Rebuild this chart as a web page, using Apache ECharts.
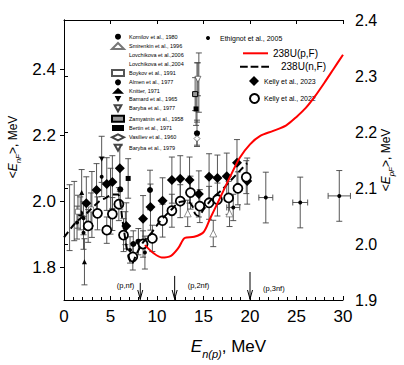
<!DOCTYPE html>
<html><head><meta charset="utf-8">
<script src="https://cdn.jsdelivr.net/npm/echarts@6/dist/echarts.min.js"></script>
<style>html,body{margin:0;padding:0;background:#fff}#c{width:404px;height:365px}</style>
</head><body><div id="c"></div>
<script>
// ---- data: [E (MeV), <E>, dy, dx] ----
const kornilov   = [[1.75,1.963,0.05],[6.05,2.036,0.06],[7.45,1.87,0.04],[8.0,1.877,0.04],[9.25,2.034,0.06],[14.3,2.206,0.04]];
const smirenkin  = [[13.3,1.963,0.04],[16.05,1.902,0.04],[17.8,1.963,0.04]];
const lovch2006  = [[0.6,1.95,0.1],[3.0,1.99,0.1],[14.5,2.36,0.09]];
const lovch2004  = [[1.1,1.97,0.09],[5.0,2.0,0.1],[14.3,2.33,0.09]];
const boykov     = [[1.5,1.968,0.05],[2.9,1.975,0.05]];
const almen      = [[1.4,1.935,0.05],[2.1,1.948,0.05],[2.1,1.904,0.05],[4.05,2.074,0.06],[6.6,1.918,0.05],[7.1,1.852,0.04],[8.7,1.844,0.05]];
const knitter    = [[1.9,2.026,0.07],[2.2,1.816,0.07]];
const barnard    = [[4.05,2.127,0.07]];
const baryba1977 = [[14.4,2.37,0.05]];
const zamyatnin  = [[14.1,2.325,0.05]];
const bertin     = [[6.9,2.069,0.06],[14.2,2.28,0.05]];
const vasiliev   = [[14.3,2.19,0.02]];
const baryba1979 = [];
const ethignot   = [[18.2,1.981,0.04,0.7],[21.7,2.011,0.077,0.75],[25.4,1.996,0.077,0.8],[29.6,2.016,0.077,1.2]];
const kelly2023  = [[2.4,1.994,0.08],[3.5,2.034,0.08],[4.6,2.052,0.08],[5.2,2.058,0.08],[6.0,2.10,0.07],[6.7,1.925,0.07],[8.5,1.947,0.07],[9.3,1.982,0.07],[10.6,2.001,0.07],[11.6,2.064,0.07],[12.5,2.068,0.07],[13.5,2.064,0.07],[14.5,2.022,0.07],[15.6,2.074,0.07],[16.5,2.07,0.07],[17.5,2.076,0.07],[18.6,2.117,0.07],[19.7,2.061,0.07]];
const kelly2022  = [[2.6,1.925,0.05],[3.6,1.963,0.05],[4.6,1.912,0.04],[5.2,1.961,0.05],[5.9,1.991,0.05],[6.4,1.897,0.05],[7.4,1.831,0.04],[8.5,1.87,0.04],[9.5,1.887,0.04],[10.6,1.941,0.05],[11.6,1.971,0.05],[12.5,2.0,0.05],[13.6,2.026,0.05],[14.6,1.985,0.05],[15.6,1.995,0.05],[16.5,2.005,0.05],[17.7,2.01,0.05],[18.7,2.039,0.05],[19.6,2.073,0.05]];
// 238U(n,F) on left axis
const unfE = [0,1.2,2.5,3.8,4.5,5.2,5.8,6.3,6.8,7.3,7.8,8.5,9.3,10.3,11.5,12.5,13.3,13.8,14.1,14.5,15.0,16.0,17.0,18.0,19.0,19.7];
const unfV = [1.89,1.933,1.965,2.0,2.01,2.02,2.02,1.94,1.85,1.81,1.84,1.875,1.9,1.938,1.973,1.998,2.0,1.985,1.962,1.955,1.975,2.01,2.035,2.065,2.095,2.115];
// 238U(p,F) on right axis
const upfE = [8.7,9.6,10.5,11.5,12.3,13.0,14.0,15.0,15.7,16.8,17.8,18.9,20.0,21.1,22.5,23.9,25.0,26.0,27.0,28.0,29.0,30.0];
const upfV = [1.998,1.984,1.976,1.979,1.993,2.011,2.013,2.021,2.045,2.083,2.118,2.154,2.178,2.193,2.202,2.212,2.227,2.243,2.264,2.288,2.313,2.338];
// reaction thresholds
const reactE = [8.2,11.9,20.0];
const reactTop = [1.752,1.773,1.785];
const reactLabels = ['(p,nf)','(p,2nf)','(p,3nf)'];
const leftTicks = [1.8,2.0,2.2,2.4];
const rightTicks = [1.9,2.0,2.1,2.2,2.3,2.4];
const xTicks = [0,5,10,15,20,25,30];

const FONT = "'Liberation Sans', Arial, Helvetica, sans-serif";
const Y_MIN = 1.7;
const errColor = '#444';

function errSeries(name, pts, yIdx) {
  return {
    type: 'custom', name: name + ' err', yAxisIndex: yIdx || 0, z: 2, silent: true,
    encode: {x: 0, y: 1},
    data: pts.map(p => [p[0], p[1], p[2] || 0, p[3] || 0]),
    renderItem: function (params, api) {
      const x = api.value(0), y = api.value(1), dy = api.value(2), dx = api.value(3);
      const ch = [];
      const st = {stroke: errColor, lineWidth: 0.9};
      const c = 3;
      if (dy > 0) {
        const t = api.coord([x, y + dy]), b = api.coord([x, y - dy]);
        ch.push({type: 'line', shape: {x1: t[0], y1: t[1], x2: b[0], y2: b[1]}, style: st});
        ch.push({type: 'line', shape: {x1: t[0] - c, y1: t[1], x2: t[0] + c, y2: t[1]}, style: st});
        ch.push({type: 'line', shape: {x1: b[0] - c, y1: b[1], x2: b[0] + c, y2: b[1]}, style: st});
      }
      if (dx > 0) {
        const l = api.coord([x - dx, y]), r = api.coord([x + dx, y]);
        ch.push({type: 'line', shape: {x1: l[0], y1: l[1], x2: r[0], y2: r[1]}, style: st});
        ch.push({type: 'line', shape: {x1: l[0], y1: l[1] - c, x2: l[0], y2: l[1] + c}, style: st});
        ch.push({type: 'line', shape: {x1: r[0], y1: r[1] - c, x2: r[0], y2: r[1] + c}, style: st});
      }
      return {type: 'group', children: ch};
    }
  };
}
function sc(name, pts, symbol, size, fill, stroke, bw) {
  return {
    type: 'scatter', name: name, yAxisIndex: 0, z: 3,
    data: pts.map(p => [p[0], p[1]]),
    symbol: symbol, symbolSize: size,
    itemStyle: {color: fill, borderColor: stroke || fill, borderWidth: bw || 0, opacity: 1}
  };
}

const sets = [
  ['Kornilov et al., 1980', kornilov, 'circle', 6, '#000'],
  ['Smirenkin et al., 1996', smirenkin, 'triangle', 7, '#fff', '#777', 0.8],
  ['Lovchikova et al.,2006', lovch2006, 'none', 1, '#000'],
  ['Lovchikova et al.,2004', lovch2004, 'none', 1, '#000'],
  ['Boykov et al., 1991', boykov, 'rect', 5, '#fff', '#555', 0.7],
  ['Almen et al., 1977', almen, 'circle', 4, '#000'],
  ['Knitter, 1971', knitter, 'triangle', 5, '#000'],
  ['Barnard et al., 1965', barnard, 'path://M0,0 L10,0 L5,9 Z', 5, '#000'],
  ['Baryba et al., 1977', baryba1977, 'path://M0,0 L10,0 L5,9 Z', 6, '#fff', '#444', 0.7],
  ['Zamyatnin et al., 1958', zamyatnin, 'rect', 5, '#999', '#000', 1],
  ['Bertin et al., 1971', bertin, 'rect', 5, '#000'],
  ['Vasiliev et al., 1960', vasiliev, 'diamond', 6, '#fff', '#444', 0.7],
  ['Baryba et al., 1979', baryba1979, 'path://M0,0 L10,0 L5,9 Z', 6, '#fff', '#444', 0.7]
];

const series = [];
sets.forEach(s => series.push(errSeries(s[0], s[1])));
series.push(errSeries('Ethignot et al., 2005', ethignot));
series.push(errSeries('Kelly et al., 2023', kelly2023));
series.push(errSeries('Kelly et al., 2022', kelly2022));
sets.forEach(s => series.push(sc(s[0], s[1], s[2], s[3], s[4], s[5], s[6])));
series.push(sc('Ethignot et al., 2005', ethignot, 'circle', 4, '#000'));
series.push({
  type: 'line', name: '238U(p,F)', yAxisIndex: 1, z: 6, smooth: 0.3, symbol: 'none',
  data: upfE.map((e, i) => [e, upfV[i]]),
  lineStyle: {color: '#ff0000', width: 2}, itemStyle: {color: '#ff0000'}
});
series.push({
  type: 'line', name: '238U(n,F)', yAxisIndex: 0, z: 5, smooth: 0.3, symbol: 'none',
  data: unfE.map((e, i) => [e, unfV[i]]),
  lineStyle: {color: '#000', width: 2, type: [7, 4]}, itemStyle: {color: '#000'}
});
series.push(sc('Kelly et al., 2023', kelly2023, 'diamond', 10, '#000'));
series.push(sc('Kelly et al., 2022', kelly2022, 'circle', 9, '#fff', '#000', 1.8));
series.push({
  type: 'custom', name: 'thresholds', yAxisIndex: 0, z: 7, silent: true,
  encode: {x: 0, y: 1},
  data: reactE.map((e, i) => [e, reactTop[i]]),
  renderItem: function (params, api) {
    const i = params.dataIndex;
    const t = api.coord([api.value(0), api.value(1)]);
    const b = api.coord([api.value(0), Y_MIN]);
    const st = {stroke: '#000', lineWidth: 1, fill: null};
    const right = i === 0;
    return {type: 'group', children: [
      {type: 'line', shape: {x1: t[0], y1: t[1], x2: b[0], y2: b[1]}, style: st},
      {type: 'polyline', shape: {points: [[b[0] - 2.5, b[1] - 10], [b[0], b[1] - 1], [b[0] + 2.5, b[1] - 10]]}, style: st},
      {type: 'text', style: {text: reactLabels[i], x: right ? t[0] - 6 : t[0] + 13, y: i === 2 ? 288 : 285,
        align: right ? 'right' : 'left', verticalAlign: 'middle', font: '7.5px ' + FONT, fill: '#000'}}
    ]};
  }
});

const leftNames = sets.map(s => s[0]);
const legendBase = {orient: 'vertical', padding: 0, selectedMode: false, itemGap: 2.33};
const legends = [
  Object.assign({}, legendBase, {data: leftNames.map(n => ({name: n})), left: 111, top: 33.7, itemWidth: 12, itemHeight: 6,
    textStyle: {fontSize: 5.5, lineHeight: 6, color: '#000', fontFamily: FONT}}),
  Object.assign({}, legendBase, {data: ['Ethignot et al., 2005'], left: 206, top: 34, itemWidth: 14, itemHeight: 4,
    textStyle: {fontSize: 7, lineHeight: 8, color: '#000', fontFamily: FONT}}),
  Object.assign({}, legendBase, {data: [{name: '238U(p,F)', icon: 'rect'}], left: 243, top: 47.3, itemWidth: 25, itemHeight: 2,
    symbolKeepAspect: false,
    textStyle: {fontSize: 10, lineHeight: 12, color: '#000', fontFamily: FONT}}),
  Object.assign({}, legendBase, {data: [{name: '238U(n,F)', icon: 'path://M0,0h8v2h-8z M11,0h8v2h-8z M22,0h8v2h-8z'}], left: 240, top: 60.7, itemWidth: 29, itemHeight: 2,
    symbolKeepAspect: false,
    textStyle: {fontSize: 10, lineHeight: 12, color: '#000', fontFamily: FONT, padding: [0, 0, 0, 7]}}),
  Object.assign({}, legendBase, {data: ['Kelly et al., 2023'], left: 249, top: 76, itemWidth: 10, itemHeight: 10,
    textStyle: {fontSize: 7, lineHeight: 8, color: '#000', fontFamily: FONT}}),
  Object.assign({}, legendBase, {data: ['Kelly et al., 2022'], left: 249, top: 93, itemWidth: 9, itemHeight: 9,
    textStyle: {fontSize: 7, lineHeight: 8, color: '#000', fontFamily: FONT}})
];

const axisLineS = {show: true, lineStyle: {color: '#000', width: 1}};
const option = {
  backgroundColor: '#fff',
  animation: false,
  textStyle: {fontFamily: FONT},
  grid: {left: 64, right: 61, top: 20, bottom: 65, containLabel: false, outerBoundsMode: 'none'},
  legend: legends,
  xAxis: [{
    type: 'value', min: 0, max: 30, interval: 5, position: 'bottom',
    axisLine: axisLineS,
    axisTick: {show: true, inside: true, length: 4, lineStyle: {color: '#000'}},
    minorTick: {show: true, splitNumber: 5, length: 3, lineStyle: {color: '#000'}},
    splitLine: {show: false},
    axisLabel: {fontSize: 17, color: '#000', margin: 8, fontFamily: FONT, customValues: xTicks},
    name: '{i|E}{s|n(p)}{r|, MeV}', nameLocation: 'middle', nameGap: 33, nameMoveOverlap: false,
    nameTextStyle: {padding: [0, 0, 0, 50], rich: {
      i: {fontSize: 17, fontStyle: 'italic', lineHeight: 26, fontFamily: FONT, color: '#000'},
      s: {fontSize: 11, fontStyle: 'italic', lineHeight: 11, verticalAlign: 'bottom', fontFamily: FONT, color: '#000'},
      r: {fontSize: 17, lineHeight: 26, fontFamily: FONT, color: '#000'}}}
  }, {
    type: 'value', min: 0, max: 30, interval: 5, position: 'top',
    axisLine: axisLineS,
    axisTick: {show: true, inside: true, length: 4, lineStyle: {color: '#000'}},
    axisLabel: {show: false}, splitLine: {show: false}
  }],
  yAxis: [{
    type: 'value', min: Y_MIN, max: 2.55, position: 'left',
    axisLine: axisLineS,
    axisTick: {show: true, inside: false, length: 4, customValues: leftTicks, lineStyle: {color: '#000'}},
    axisLabel: {fontSize: 17, color: '#000', margin: 8, fontFamily: FONT, customValues: leftTicks, formatter: v => v.toFixed(1)},
    splitLine: {show: false},
    name: '<{i|E}{s|nF}>, MeV', nameLocation: 'middle', nameRotate: 90, nameGap: 42, nameMoveOverlap: false,
    nameTextStyle: {fontSize: 12, color: '#000', lineHeight: 18, padding: [0, 0, 0, 26], rich: {
      i: {fontSize: 12, fontStyle: 'italic', lineHeight: 18, fontFamily: FONT, color: '#000'},
      s: {fontSize: 8, fontStyle: 'italic', lineHeight: 8, verticalAlign: 'bottom', fontFamily: FONT, color: '#000'}}}
  }, {
    type: 'value', min: 1.9, max: 2.4, position: 'right',
    axisLine: axisLineS,
    axisTick: {show: true, inside: false, length: 4, customValues: rightTicks, lineStyle: {color: '#000'}},
    axisLabel: {fontSize: 16, color: '#000', margin: 12, fontFamily: FONT, customValues: rightTicks, formatter: v => v.toFixed(1)},
    splitLine: {show: false},
    name: '<{i|E}{s|pF}>, MeV', nameLocation: 'middle', nameRotate: 90, nameGap: 34, nameMoveOverlap: false,
    nameTextStyle: {fontSize: 12, color: '#000', lineHeight: 18, rich: {
      i: {fontSize: 12, fontStyle: 'italic', lineHeight: 18, fontFamily: FONT, color: '#000'},
      s: {fontSize: 8, fontStyle: 'italic', lineHeight: 8, verticalAlign: 'bottom', fontFamily: FONT, color: '#000'}}}
  }],
  series: series
};
const chart = echarts.init(document.getElementById('c'), null, {renderer: 'svg'});
chart.setOption(option);
</script></body></html>
